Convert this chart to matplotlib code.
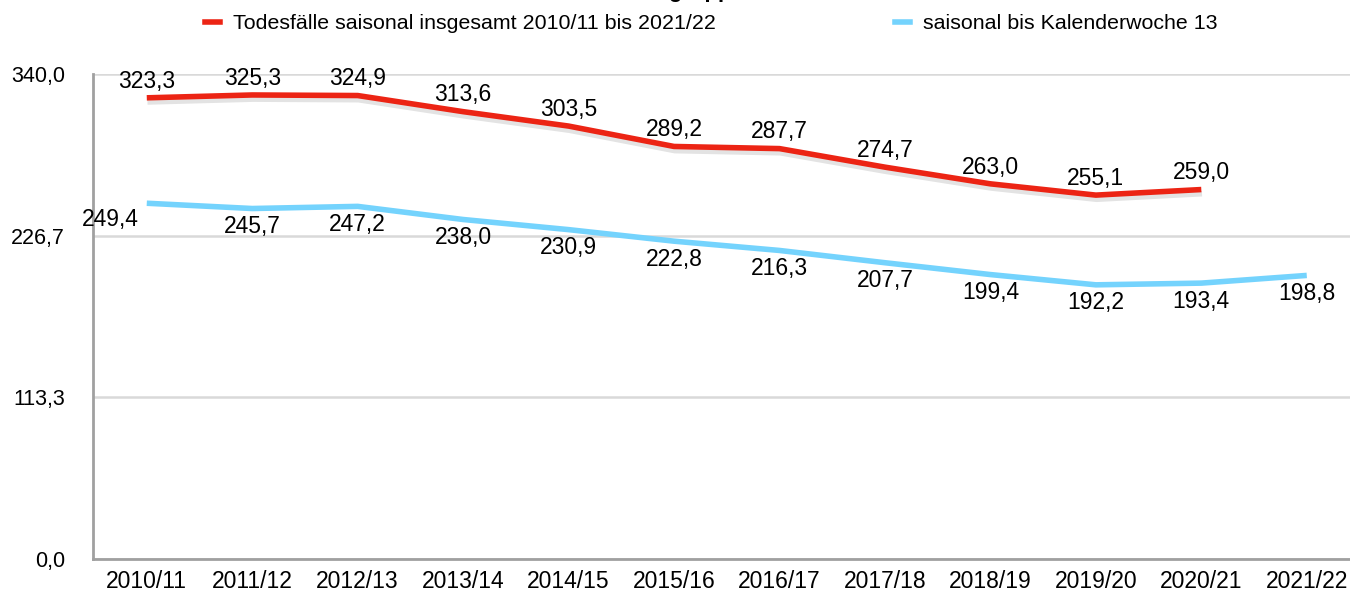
import matplotlib.pyplot as plt
import matplotlib.patheffects as pe
from matplotlib.lines import Line2D
import numpy as np

plt.rcParams['font.family'] = ['Liberation Sans', 'DejaVu Sans']

# Daten
saisons = ['2010/11', '2011/12', '2012/13', '2013/14', '2014/15', '2015/16',
           '2016/17', '2017/18', '2018/19', '2019/20', '2020/21', '2021/22']
insgesamt = [323.3, 325.3, 324.9, 313.6, 303.5, 289.2, 287.7, 274.7, 263.0, 255.1, 259.0]
bis_kw13 = [249.4, 245.7, 247.2, 238.0, 230.9, 222.8, 216.3, 207.7, 199.4, 192.2, 193.4, 198.8]
y_ticks = [0.0, 113.3, 226.7, 340.0]

rot = '#ec2414'
blau = '#74d3fd'

def de(v):
    return f'{v:.1f}'.replace('.', ',')

fig = plt.figure(figsize=(13.5, 5.93), dpi=100)
ax = fig.add_axes([93 / 1350, 34 / 593, 1 - 93 / 1350, (559 - 74) / 593])

x1 = np.arange(len(insgesamt))
x2 = np.arange(len(bis_kw13))

schatten = [pe.SimpleLineShadow(offset=(0.5, -3), shadow_color='gray', alpha=0.22), pe.Normal()]
ax.plot(x1, insgesamt, color=rot, lw=4, solid_capstyle='butt', path_effects=schatten, zorder=3)
ax.plot(x2, bis_kw13, color=blau, lw=4, solid_capstyle='butt', zorder=3)

# Beschriftungen
for x, v in zip(x1, insgesamt):
    ax.annotate(de(v), (x, v), xytext=(0, 12), textcoords='offset points',
                ha='center', va='center', fontsize=16.5)
for x, v in zip(x2, bis_kw13):
    dx, dy = (0, -13)
    if x == 0:
        dx, dy = (-26, -12)
    ax.annotate(de(v), (x, v), xytext=(dx, dy), textcoords='offset points',
                ha='center', va='center', fontsize=16.5)

ax.set_xlim(-0.51, 11.41)
ax.set_ylim(0, 340)
ax.set_xticks(x2)
ax.set_xticklabels(saisons, fontsize=16.5)
ax.set_yticks(y_ticks)
ax.set_yticklabels([de(v) for v in y_ticks], fontsize=15.5)
ax.tick_params(axis='both', length=0)
ax.tick_params(axis='y', pad=20)
ax.tick_params(axis='x', pad=8)
ax.grid(axis='y', color='#d9d9d9', lw=1.8)
ax.set_axisbelow(True)
for s in ['top', 'right']:
    ax.spines[s].set_visible(False)
for s in ['left', 'bottom']:
    ax.spines[s].set_color('#a0a0a0')
    ax.spines[s].set_linewidth(2)

# abgeschnittener Titel
fig.text(0.5, 1.015, 'Altersgruppe', fontsize=16, fontweight='bold', ha='center', va='center')

handles = [Line2D([], [], color=rot, lw=4), Line2D([], [], color=blau, lw=4)]
fig.legend(handles, ['Todesfälle saisonal insgesamt 2010/11 bis 2021/22', 'saisonal bis Kalenderwoche 13'],
           loc='center', bbox_to_anchor=(0.527, 0.96), ncol=2, frameon=False, fontsize=15.4,
           handlelength=0.7, handletextpad=0.6, columnspacing=8.4)

plt.savefig('out.png', dpi=100)
